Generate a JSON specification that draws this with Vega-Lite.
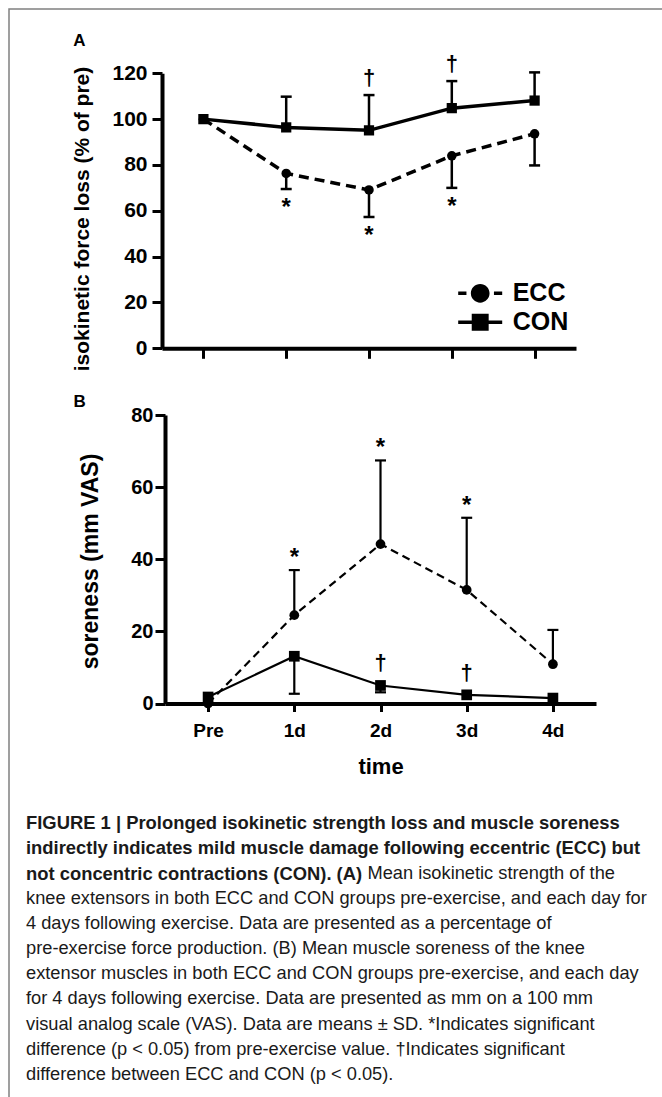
{
  "$schema": "https://vega.github.io/schema/vega-lite/v6.json",
  "autosize": "none",
  "width": 656,
  "height": 1091,
  "padding": {"left": 9, "top": 9, "right": -3, "bottom": -3},
  "background": "white",
  "config": {
    "view": {"stroke": "#808080", "strokeWidth": 1.5},
    "font": "Liberation Sans",
    "axis": {"domainColor": "black", "tickColor": "black", "labelColor": "black", "titleColor": "black", "grid": false, "labelFont": "Liberation Sans", "titleFont": "Liberation Sans", "labelFontWeight": "bold", "titleFontWeight": "bold"}
  },
  "datasets": {
    "force": [
      {"t": "Pre", "d": 0, "g": "ECC", "m": 100, "e": null, "sp": false, "sg": false},
      {"t": "1d", "d": 1, "g": "ECC", "m": 76.3, "e": 69.5, "sp": true, "sg": false},
      {"t": "2d", "d": 2, "g": "ECC", "m": 69.1, "e": 57.3, "sp": true, "sg": false},
      {"t": "3d", "d": 3, "g": "ECC", "m": 84.0, "e": 70.0, "sp": true, "sg": false},
      {"t": "4d", "d": 4, "g": "ECC", "m": 93.6, "e": 79.8, "sp": false, "sg": false},
      {"t": "Pre", "d": 0, "g": "CON", "m": 100, "e": null, "sp": false, "sg": false},
      {"t": "1d", "d": 1, "g": "CON", "m": 96.4, "e": 109.8, "sp": false, "sg": false},
      {"t": "2d", "d": 2, "g": "CON", "m": 95.1, "e": 110.5, "sp": false, "sg": true},
      {"t": "3d", "d": 3, "g": "CON", "m": 104.8, "e": 116.6, "sp": false, "sg": true},
      {"t": "4d", "d": 4, "g": "CON", "m": 108.1, "e": 120.4, "sp": false, "sg": false}
    ],
    "soreness": [
      {"t": "Pre", "d": 0, "g": "ECC", "m": 0, "e": null, "sp": false, "sg": false},
      {"t": "1d", "d": 1, "g": "ECC", "m": 24.5, "e": 37.0, "sp": true, "sg": false},
      {"t": "2d", "d": 2, "g": "ECC", "m": 44.2, "e": 67.4, "sp": true, "sg": false},
      {"t": "3d", "d": 3, "g": "ECC", "m": 31.5, "e": 51.5, "sp": true, "sg": false},
      {"t": "4d", "d": 4, "g": "ECC", "m": 10.9, "e": 20.4, "sp": false, "sg": false},
      {"t": "Pre", "d": 0, "g": "CON", "m": 1.8, "e": null, "sp": false, "sg": false},
      {"t": "1d", "d": 1, "g": "CON", "m": 13.1, "e": 2.7, "sp": false, "sg": false},
      {"t": "2d", "d": 2, "g": "CON", "m": 5.0, "e": 3.1, "sp": false, "sg": true},
      {"t": "3d", "d": 3, "g": "CON", "m": 2.4, "e": null, "sp": false, "sg": true},
      {"t": "4d", "d": 4, "g": "CON", "m": 1.5, "e": null, "sp": false, "sg": false}
    ],
    "caption": [
      {"line": 1, "kind": "head", "txt": "FIGURE 1 | Prolonged isokinetic strength loss and muscle soreness"},
      {"line": 2, "kind": "head", "txt": "indirectly indicates mild muscle damage following eccentric (ECC) but"},
      {"line": 3, "kind": "head", "txt": "not concentric contractions (CON). (A)"},
      {"line": 3, "kind": "tail", "txt": "Mean isokinetic strength of the"},
      {"line": 4, "kind": "body", "txt": "knee extensors in both ECC and CON groups pre-exercise, and each day for"},
      {"line": 5, "kind": "body", "txt": "4 days following exercise. Data are presented as a percentage of"},
      {"line": 6, "kind": "body", "txt": "pre-exercise force production. (B) Mean muscle soreness of the knee"},
      {"line": 7, "kind": "body", "txt": "extensor muscles in both ECC and CON groups pre-exercise, and each day"},
      {"line": 8, "kind": "body", "txt": "for 4 days following exercise. Data are presented as mm on a 100 mm"},
      {"line": 9, "kind": "body", "txt": "visual analog scale (VAS). Data are means ± SD. *Indicates significant"},
      {"line": 10, "kind": "body", "txt": "difference (p < 0.05) from pre-exercise value. †Indicates significant"},
      {"line": 11, "kind": "body", "txt": "difference between ECC and CON (p < 0.05)."}
    ]
  },
  "layer": [
    {
      "data": {"name": "force"},
      "encoding": {
        "x": {"field": "t", "type": "ordinal",
          "scale": {"type": "point", "domain": ["Pre", "1d", "2d", "3d", "4d"], "range": [153, 567], "padding": 0.5},
          "axis": {"orient": "bottom", "offset": -751.7, "labels": false, "domainWidth": 4, "tickWidth": 3, "tickSize": 10,
            "title": "A", "titleX": 69.8, "titleY": -308.3, "titleAngle": 0, "titleAlign": "center", "titleBaseline": "middle", "titleFontSize": 17}},
        "y": {"field": "m", "type": "quantitative",
          "scale": {"domain": [0, 120], "range": [339.3, 64.3], "nice": false, "zero": false},
          "axis": {"orient": "left", "offset": -153, "values": [0, 20, 40, 60, 80, 100, 120], "domainWidth": 4, "tickWidth": 3, "tickSize": 10, "labelPadding": 5, "labelFontSize": 21,
            "title": "isokinetic force loss (% of pre)", "titleFontSize": 21, "titlePadding": 19, "titleY": 209.5}},
        "order": {"field": "d", "type": "quantitative"}
      },
      "layer": [
        {"transform": [{"filter": "datum.e != null"}], "mark": {"type": "rule", "strokeWidth": 2.5, "color": "black"}, "encoding": {"y2": {"field": "e"}}},
        {"transform": [{"filter": "datum.e != null"}], "mark": {"type": "tick", "size": 11, "thickness": 2.5, "color": "black", "opacity": 1}, "encoding": {"y": {"field": "e", "type": "quantitative"}}},
        {"transform": [{"filter": "datum.g == 'ECC'"}], "mark": {"type": "line", "strokeWidth": 3.5, "strokeDash": [10, 6], "color": "black"}},
        {"transform": [{"filter": "datum.g == 'CON'"}], "mark": {"type": "line", "strokeWidth": 3.5, "color": "black"}},
        {"transform": [{"filter": "datum.g == 'ECC'"}], "mark": {"type": "point", "shape": "circle", "filled": true, "size": 90, "color": "black", "opacity": 1}},
        {"transform": [{"filter": "datum.g == 'CON'"}], "mark": {"type": "point", "shape": "square", "filled": true, "size": 105, "color": "black", "opacity": 1}},
        {"transform": [{"filter": "datum.sp"}], "mark": {"type": "text", "text": "*", "fontSize": 24, "fontWeight": "bold", "baseline": "alphabetic", "dy": 26, "color": "black"}, "encoding": {"y": {"field": "e", "type": "quantitative"}}},
        {"transform": [{"filter": "datum.sg"}], "mark": {"type": "text", "text": "†", "fontSize": 22, "fontWeight": "bold", "baseline": "alphabetic", "dy": -10, "color": "black"}, "encoding": {"y": {"field": "e", "type": "quantitative"}}},
        {"transform": [{"filter": "datum.d == 0"}], "mark": {"type": "point", "filled": true, "size": 0, "color": "black", "opacity": 1},
          "encoding": {"shape": {"field": "g", "type": "nominal",
            "scale": {"domain": ["ECC", "CON"], "range": [
              "M-2,-0.16H-1.25V0.16H-2Z M1.25,-0.16H2V0.16H1.25Z M-0.85,0A0.85,0.85 0 1,1 0.85,0A0.85,0.85 0 1,1 -0.85,0Z",
              "M-2,-0.16H2V0.16H-2Z M-0.77,-0.77H0.77V0.77H-0.77Z"]},
            "legend": {"orient": "none", "legendX": 458.7, "legendY": 271.8, "title": null, "symbolSize": 484, "symbolStrokeWidth": 0, "symbolFillColor": "black",
              "labelFontSize": 25, "labelFontWeight": "bold", "labelFont": "Liberation Sans", "labelColor": "black", "labelOffset": 20, "rowPadding": 3}}}}
      ]
    },
    {
      "data": {"name": "soreness"},
      "encoding": {
        "x": {"field": "t", "type": "ordinal",
          "scale": {"type": "point", "domain": ["Pre", "1d", "2d", "3d", "4d"], "range": [156, 587], "padding": 0.5},
          "axis": {"orient": "bottom", "offset": -396.5, "labelAngle": 0, "domainWidth": 4, "tickWidth": 3, "tickSize": 8, "labelPadding": 10, "labelFontSize": 19,
            "title": "time", "titleFontSize": 22, "titlePadding": 16}},
        "y": {"field": "m", "type": "quantitative",
          "scale": {"domain": [0, 80], "range": [694.5, 406], "nice": false, "zero": false},
          "axis": {"orient": "left", "offset": -156, "values": [0, 20, 40, 60, 80], "domainWidth": 4, "tickWidth": 3, "tickSize": 10, "labelPadding": 2, "labelFontSize": 20,
            "title": "soreness (mm VAS)", "titleFontSize": 23, "titlePadding": 28, "titleY": 552}},
        "order": {"field": "d", "type": "quantitative"}
      },
      "layer": [
        {"transform": [{"filter": "datum.e != null"}], "mark": {"type": "rule", "strokeWidth": 2.2, "color": "black"}, "encoding": {"y2": {"field": "e"}}},
        {"transform": [{"filter": "datum.e != null"}], "mark": {"type": "tick", "size": 11, "thickness": 2.2, "color": "black", "opacity": 1}, "encoding": {"y": {"field": "e", "type": "quantitative"}}},
        {"transform": [{"filter": "datum.g == 'ECC'"}], "mark": {"type": "line", "strokeWidth": 2.2, "strokeDash": [8, 5], "color": "black"}},
        {"transform": [{"filter": "datum.g == 'CON'"}], "mark": {"type": "line", "strokeWidth": 2.2, "color": "black"}},
        {"transform": [{"filter": "datum.g == 'ECC'"}], "mark": {"type": "point", "shape": "circle", "filled": true, "size": 95, "color": "black", "opacity": 1}},
        {"transform": [{"filter": "datum.g == 'CON'"}], "mark": {"type": "point", "shape": "square", "filled": true, "size": 115, "color": "black", "opacity": 1}},
        {"transform": [{"filter": "datum.sp"}], "mark": {"type": "text", "text": "*", "fontSize": 24, "fontWeight": "bold", "baseline": "alphabetic", "dy": -5, "color": "black"}, "encoding": {"y": {"field": "e", "type": "quantitative"}}},
        {"transform": [{"filter": "datum.sg"}], "mark": {"type": "text", "text": "†", "fontSize": 22, "fontWeight": "bold", "baseline": "alphabetic", "dy": -15, "color": "black"}}
      ]
    },
    {
      "data": {"name": "caption"},
      "encoding": {
        "x": {"datum": 0, "type": "quantitative",
          "scale": {"domain": [0, 1], "range": [17, 606]},
          "axis": {"orient": "bottom", "domain": false, "ticks": false, "labels": false, "grid": false,
            "title": "B", "titleX": 70.2, "titleY": -698.3, "titleAngle": 0, "titleAlign": "center", "titleBaseline": "middle", "titleFontSize": 17}},
        "y": {"field": "line", "type": "quantitative", "scale": {"domain": [1, 11], "range": [814.3, 1066]}, "axis": null},
        "text": {"field": "txt"}
      },
      "layer": [
        {"transform": [{"filter": "datum.kind == 'head'"}], "mark": {"type": "text", "align": "left", "baseline": "middle", "font": "Liberation Sans", "fontWeight": "bold", "fontSize": 18.4, "color": "#1a1a1a"}},
        {"transform": [{"filter": "datum.kind == 'body'"}], "mark": {"type": "text", "align": "left", "baseline": "middle", "font": "Liberation Sans", "fontSize": 18.25, "color": "#1a1a1a"}},
        {"transform": [{"filter": "datum.kind == 'tail'"}], "mark": {"type": "text", "align": "right", "baseline": "middle", "font": "Liberation Sans", "fontSize": 18.25, "color": "#1a1a1a"}, "encoding": {"x": {"datum": 1, "type": "quantitative"}}}
      ]
    }
  ],
  "resolve": {"scale": {"x": "independent", "y": "independent"}}
}
